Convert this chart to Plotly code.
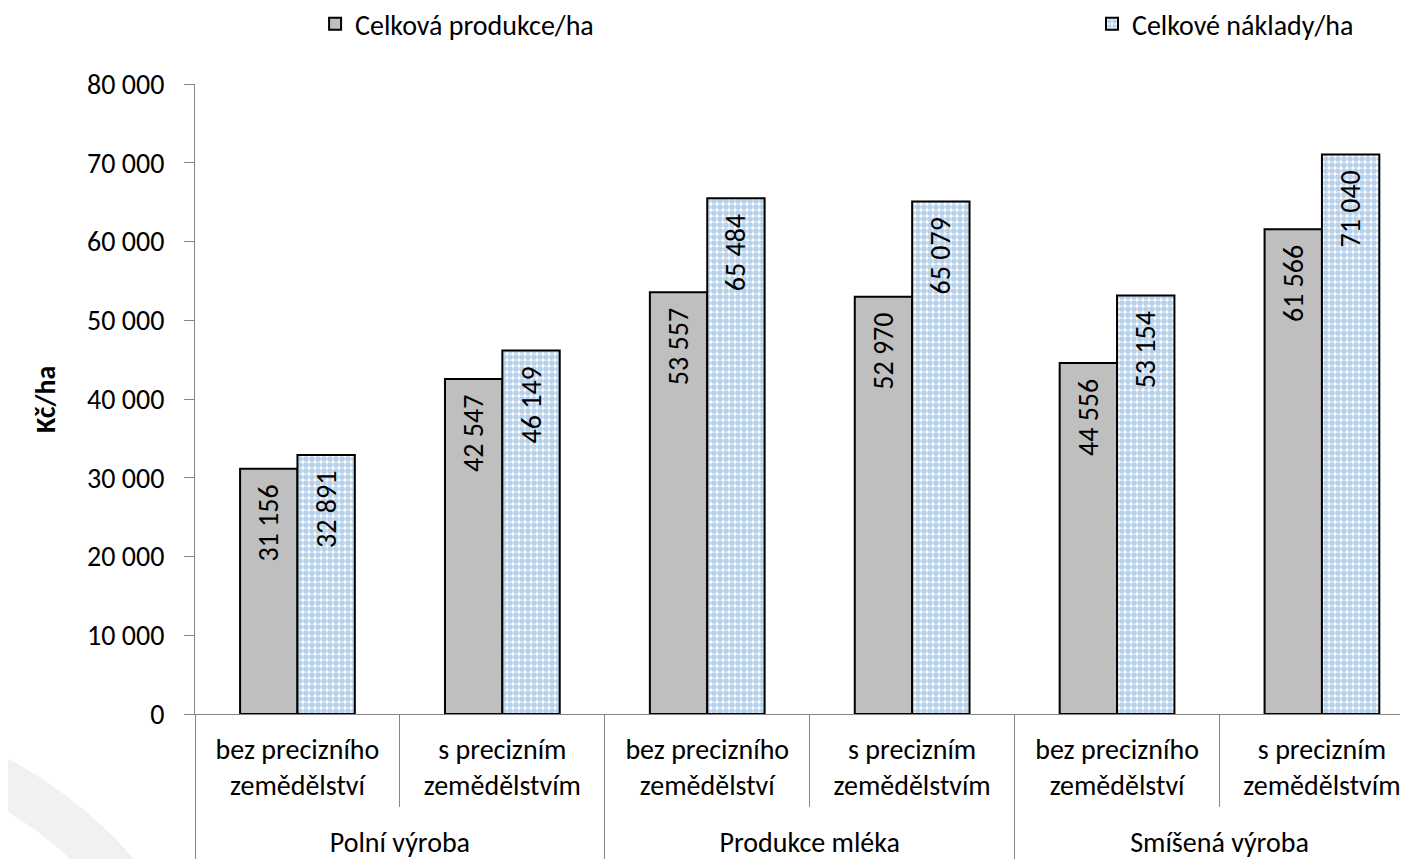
import plotly.graph_objects as go

# --- data ---
groups = ["Polní výroba", "Polní výroba",
          "Produkce mléka", "Produkce mléka",
          "Smíšená výroba", "Smíšená výroba"]
sub_names = ["bez precizního<br>zemědělství", "s precizním<br>zemědělstvím"]
produkce = [31156, 42547, 53557, 52970, 44556, 61566]
naklady = [32891, 46149, 65484, 65079, 53154, 71040]
series_names = ["Celková produkce/ha", "Celkové náklady/ha"]
y_title = "Kč/ha"

FONT = "Calibri, Carlito, Lato, sans-serif"
FS = 28
AXIS_GREY = "#868686"

# a small blank line below each sub-label pushes the group labels down
subgroups = [s + "<br><span style='font-size:6px'> </span>" for s in sub_names] * 3

fig = go.Figure()

fig.add_trace(go.Bar(
    x=[groups, subgroups],
    y=produkce,
    name=series_names[0],
    legend="legend",
    showlegend=True,
    marker=dict(color="#BFBFBF", line=dict(color="black", width=2)),
    texttemplate="%{y:,d}\u00a0\u00a0",
    textposition="inside",
    insidetextanchor="end",
    textangle=-90,
    textfont=dict(size=FS, color="black", family=FONT),
))

fig.add_trace(go.Bar(
    x=[groups, subgroups],
    y=naklady,
    name=series_names[1],
    legend="legend2",
    showlegend=True,
    marker=dict(
        color="white",
        line=dict(color="black", width=2),
        pattern=dict(shape=".", fgcolor="#6FA3D8", bgcolor="white",
                     size=6, solidity=0.7),
    ),
    texttemplate="%{y:,d}\u00a0\u00a0",
    textposition="inside",
    insidetextanchor="end",
    textangle=-90,
    textfont=dict(size=FS, color="black", family=FONT),
))

# light decorative ring in the lower left corner
fig.add_shape(type="circle", xref="paper", yref="paper",
              x0=-0.672, x1=0.0206, y0=-1.359, y1=-0.0254,
              line=dict(color="#F1F1F1", width=46), layer="below")

# y axis title
fig.add_annotation(text="<b>" + y_title + "</b>", xref="paper", yref="paper",
                   x=-0.1237, y=0.5, xanchor="center", yanchor="middle",
                   textangle=-90, showarrow=False,
                   font=dict(size=FS, color="black", family=FONT))

legend_common = dict(orientation="h", yanchor="middle", y=1.095,
                     xanchor="left", font=dict(size=FS, family=FONT),
                     bgcolor="rgba(0,0,0,0)")

fig.update_layout(
    width=1400, height=851,
    paper_bgcolor="white", plot_bgcolor="white",
    font=dict(family=FONT, size=FS, color="black"),
    separators=", ",
    barmode="group",
    bargap=0.44,
    bargroupgap=0,
    uniformtext=dict(minsize=FS, mode="show"),
    margin=dict(l=187, r=0, t=76, b=145, autoexpand=False),
    legend=dict(x=0.099, **legend_common),
    legend2=dict(x=0.7395, **legend_common),
    xaxis=dict(
        type="multicategory",
        range=[-0.5, 5.42],
        showline=True, linecolor=AXIS_GREY, linewidth=1,
        ticks="outside", tickcolor=AXIS_GREY, ticklen=92,
        showdividers=True, dividercolor=AXIS_GREY, dividerwidth=1,
        tickfont=dict(size=FS),
        ticklabelstandoff=10,
        showgrid=False, automargin=False,
    ),
    yaxis=dict(
        range=[0, 80000], dtick=10000,
        tickformat=",d",
        showline=True, linecolor=AXIS_GREY, linewidth=1,
        ticks="outside", tickcolor=AXIS_GREY, ticklen=10,
        ticklabelstandoff=14,
        showgrid=False, zeroline=False,
        tickfont=dict(size=FS),
        automargin=False,
    ),
)

fig.write_html("out.html")
